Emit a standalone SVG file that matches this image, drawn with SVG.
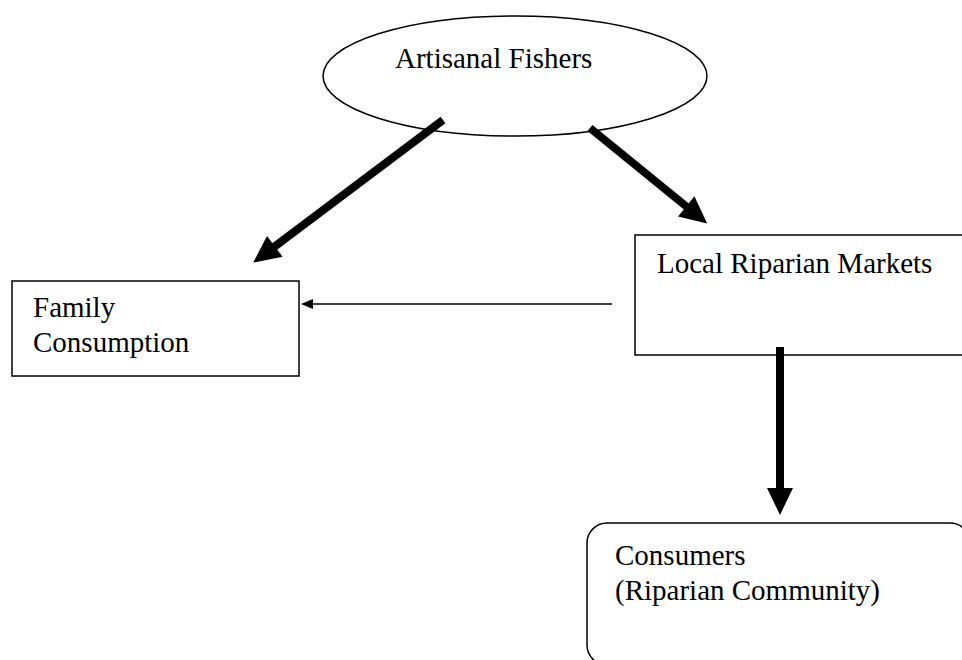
<svg xmlns="http://www.w3.org/2000/svg" width="962" height="660" viewBox="0 0 962 660">
<style>
.shape{fill:#fff;stroke:#000;stroke-width:1.5}
.lbl{font-family:"Liberation Serif","Times New Roman",serif;font-size:29px;fill:#000}
.thick{stroke:#000;stroke-width:8;fill:none}
.thin{stroke:#000;stroke-width:1.5;fill:none}
</style>
<defs>
<marker id="big" markerUnits="userSpaceOnUse" markerWidth="28" markerHeight="26" refX="1" refY="13" orient="auto" overflow="visible">
<path d="M0,0 L27,13 L0,26 z" fill="#000"/>
</marker>
<marker id="small" markerUnits="userSpaceOnUse" markerWidth="13" markerHeight="10" refX="1" refY="5" orient="auto" overflow="visible">
<path d="M0,0 L12,5 L0,10 z" fill="#000"/>
</marker>
</defs>
<rect width="962" height="660" fill="#fff"/>
<g id="fishers">
<ellipse class="shape" cx="515" cy="76" rx="192" ry="60"/>
<text class="lbl" x="395" y="68">Artisanal Fishers</text>
</g>
<g id="family">
<rect class="shape" x="12" y="281" width="287" height="95"/>
<text class="lbl" x="33" y="317">Family</text>
<text class="lbl" x="33" y="352">Consumption</text>
</g>
<g id="markets">
<rect class="shape" x="635" y="235" width="340" height="120"/>
<text class="lbl" x="657" y="273">Local Riparian Markets</text>
</g>
<g id="consumers">
<rect class="shape" x="587" y="523" width="383" height="142" rx="20" ry="20"/>
<text class="lbl" x="615" y="565">Consumers</text>
<text class="lbl" x="615" y="600">(Riparian Community)</text>
</g>
<g id="connectors">
<line class="thick" x1="443" y1="120" x2="274" y2="247" marker-end="url(#big)"/>
<line class="thick" x1="590" y1="128" x2="687" y2="207" marker-end="url(#big)"/>
<line class="thick" x1="780" y1="347" x2="780" y2="489" marker-end="url(#big)"/>
<line class="thin" x1="612" y1="304" x2="312" y2="304" marker-end="url(#small)"/>
</g>
</svg>
